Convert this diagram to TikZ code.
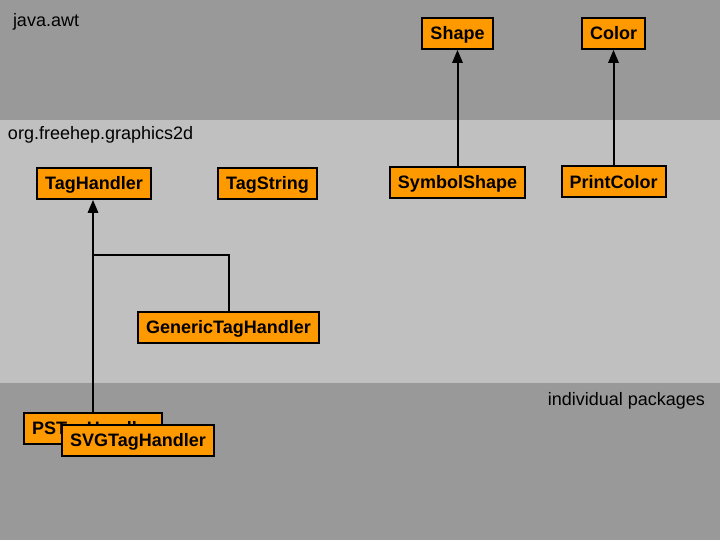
\documentclass[tikz,border=0pt]{standalone}
\usepackage{fontspec}
\setmainfont{Liberation Sans}
\usepackage{tikz}
\usetikzlibrary{positioning}
\usetikzlibrary{arrows}
\usetikzlibrary{backgrounds}

\definecolor{bandgray}{RGB}{153,153,153}
\definecolor{midgray}{RGB}{192,192,192}
\definecolor{boxorange}{RGB}{255,153,0}

\begin{document}
\begin{tikzpicture}[
            x = 1pt, y = -1pt, % pixel units, y downwards
            > = triangle 45, % arrow head style
            line width = 2pt, % line style
            font = \fontsize{18}{20}\selectfont
        ]

        \tikzstyle{classbox}=[
            draw = black,
            fill = boxorange,
            font = \fontsize{18}{20}\selectfont\bfseries,
            inner xsep = 8pt,
            inner ysep = 0pt,
            text height = 13pt,
            text depth = 0pt,
            minimum height = 31pt
        ]

        \tikzstyle{pkglabel}=[
            inner sep = 0pt
        ]

        \useasboundingbox (0,0) rectangle (720,540);

        % BACKGROUND

   \begin{scope}[on background layer]
   \fill[bandgray] (0,0) rectangle (720,120);
   \fill[midgray] (0,120) rectangle (720,383);
   \fill[bandgray] (0,383) rectangle (720,540);
  \end{scope}

        % java.awt
        \node[classbox] (Shape) at (457.5,33.5) {Shape};
        \node[classbox] (Color) at (613.5,33.5) {Color};

        % org.freehep.graphics2d
        \node[classbox] (TH) at (94,183.5) {TagHandler};
        \node[classbox] (TS) at (267.5,183.5) {TagString};
        \node[classbox] (SS) at (457.5,182.5) {SymbolShape};
        \node[classbox] (PC) at (613.5,182) {PrintColor};
        \node[classbox] (GTH) at (228.5,327) {GenericTagHandler};

        \path[->] (SS) edge node {} (Shape);
        \path[->] (PC) edge node {} (Color);

        % individual packages
        \node[classbox] (PS) at (93,428) {PSTagHandler};
        \node[classbox] (SVG) at (138,440) {SVGTagHandler};

        \coordinate (J) at (93,255);
        \begin{scope}[on background layer]
        \draw[->, line width = 2pt] (PS.north) -- (PS.north |- TH.south);
        \draw[line width = 2pt] (GTH.north) |- (J);
        \end{scope}

        % package labels
        \node[pkglabel, anchor = west] (AWT) at (12,21.5) {java.awt};
        \node[pkglabel, anchor = west] (G2D) at (7,135) {org.freehep.graphics2d};
        \node[pkglabel, anchor = east] (IND) at (706,400.5) {individual packages};

  \end{tikzpicture}
\end{document}
